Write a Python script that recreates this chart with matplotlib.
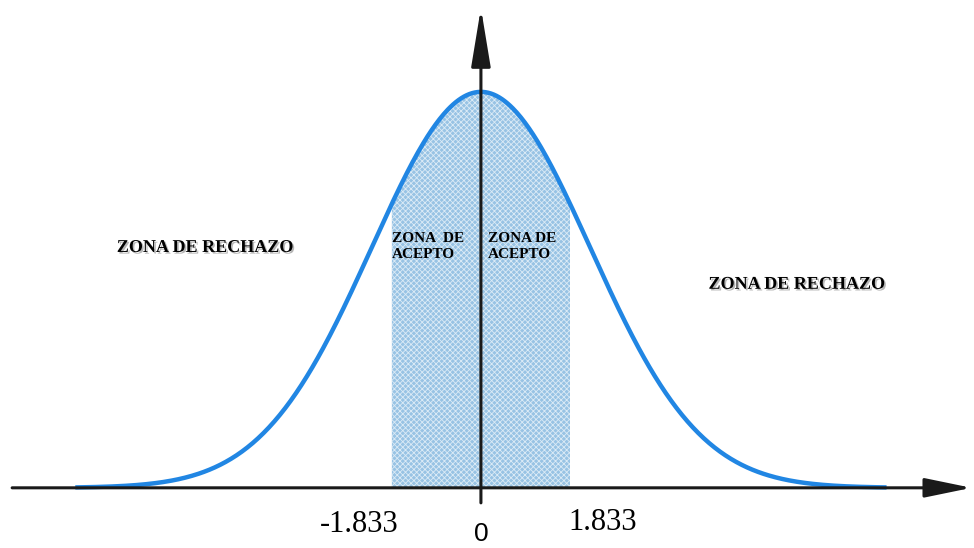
import numpy as np
import matplotlib.pyplot as plt
import matplotlib.patheffects as pe

# valores del grafico
t_critico = 1.833          # limite de la zona de acepto
sigma = 2.25               # ancho de la campana (unidades del eje)
x_min, x_max = -8.35, 8.35 # extremos dibujados de la curva
etiquetas_x = ['-1.833', '1.833']
texto_rechazo = 'ZONA DE RECHAZO'
texto_acepto_izq = 'ZONA  DE\nACEPTO'
texto_acepto_der = 'ZONA DE\nACEPTO'

x = np.linspace(x_min, x_max, 600)
y = np.exp(-x**2 / (2 * sigma**2))

fig = plt.figure(figsize=(9.74, 5.48), dpi=100)
ax = fig.add_axes([0, 0, 1, 1])
ax.set_xlim(-9.9, 10.15)
ax.set_ylim(-0.152, 1.232)
ax.axis('off')

# zona sombreada
xs = np.linspace(-t_critico, t_critico, 200)
ys = np.exp(-xs**2 / (2 * sigma**2))
plt.rcParams['hatch.color'] = '#dcebf6'
plt.rcParams['hatch.linewidth'] = 0.6
ax.fill_between(xs, 0, ys, facecolor='#98c3e4', hatch='xxxxxx',
                edgecolor='#dcebf6', linewidth=0, zorder=1)

# curva
ax.plot(x, y, color='#2186e3', lw=3.2, solid_capstyle='butt', zorder=3)

# ejes con flecha
ax.annotate('', xy=(10.1, 0), xytext=(-9.65, 0),
            arrowprops=dict(arrowstyle='-|>,head_length=1.6,head_width=0.33',
                            mutation_scale=18, lw=2.2, color='#1a1a1a',
                            shrinkA=0, shrinkB=0), zorder=4)
ax.annotate('', xy=(0, 1.212), xytext=(0, -0.038),
            arrowprops=dict(arrowstyle='-|>,head_length=2.0,head_width=0.33',
                            mutation_scale=18, lw=2.2, color='#1a1a1a',
                            shrinkA=0, shrinkB=0), zorder=4)

# textos
sombra = [pe.withSimplePatchShadow(offset=(1.2, -1.2), shadow_rgbFace='#888888', alpha=0.6)]
fuente = dict(family='Liberation Serif', fontweight='bold', color='black')
ax.text(-5.68, 0.607, texto_rechazo, fontsize=13, ha='center', va='center',
        path_effects=sombra, **fuente)
ax.text(6.5, 0.514, texto_rechazo, fontsize=13, ha='center', va='center',
        path_effects=sombra, **fuente)
ax.text(-1.83, 0.61, texto_acepto_izq, fontsize=11, ha='left', va='center',
        linespacing=1.3, **fuente)
ax.text(0.15, 0.61, texto_acepto_der, fontsize=11, ha='left', va='center',
        linespacing=1.3, **fuente)

ax.text(-t_critico - 0.67, -0.092, etiquetas_x[0], fontsize=22, ha='center', va='center',
        family='Liberation Serif')
ax.text(t_critico + 0.68, -0.087, etiquetas_x[1], fontsize=22, ha='center', va='center',
        family='Liberation Serif')
ax.text(0, -0.116, '0', fontsize=19, ha='center', va='center', family='Liberation Sans')

fig.savefig('out.png', dpi=100)
